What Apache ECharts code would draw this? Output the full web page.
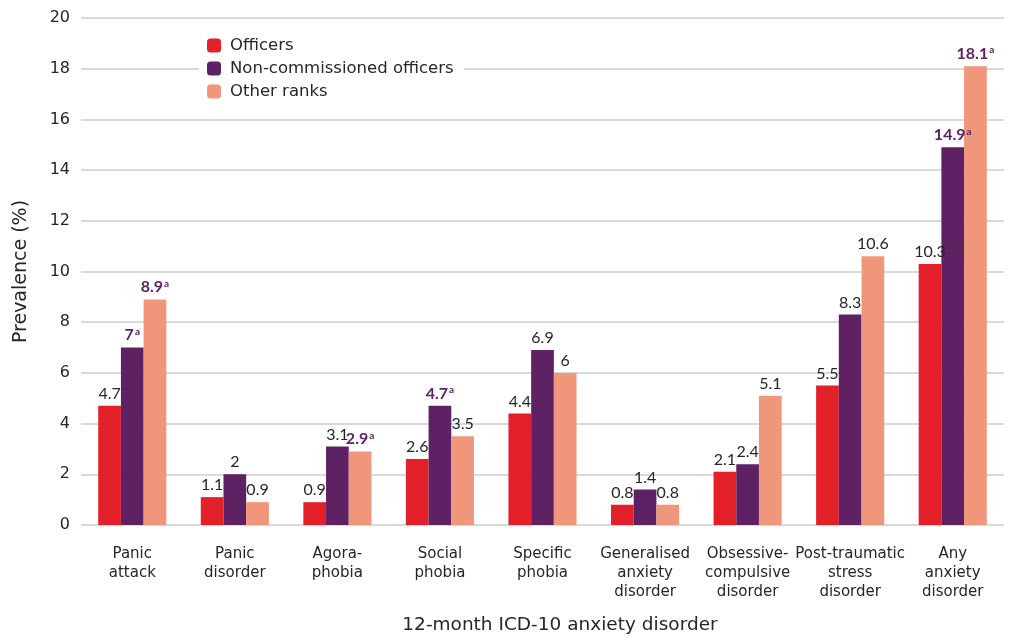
<!DOCTYPE html>
<html><head><meta charset="utf-8">
<script src="https://cdn.jsdelivr.net/npm/echarts@6/dist/echarts.min.js"></script>
<style>html,body{margin:0;padding:0;background:#fff}#c{width:1009px;height:637px}</style>
</head><body><div id="c"></div>
<script>
const categories = ['Panic\nattack','Panic\ndisorder','Agora-\nphobia','Social\nphobia','Specific\nphobia','Generalised\nanxiety\ndisorder','Obsessive-\ncompulsive\ndisorder','Post-traumatic\nstress\ndisorder','Any\nanxiety\ndisorder'];
const officers = [4.7, 1.1, 0.9, 2.6, 4.4, 0.8, 2.1, 5.5, 10.3];
const ncos = [7, 2, 3.1, 4.7, 6.9, 1.4, 2.4, 8.3, 14.9];
const otherRanks = [8.9, 0.9, 2.9, 3.5, 6, 0.8, 5.1, 10.6, 18.1];
const ncoSig = [1,0,0,1,0,0,0,0,1];
const otherSig = [1,0,1,0,0,0,0,0,1];
const yTicks = [0,2,4,6,8,10,12,14,16,18,20];

const FONT = 'DejaVu Sans';
const NFONT = 'Lato';
const TXT = '#262626';
const rich = {
  n: {color:TXT, fontSize:16, fontFamily:NFONT},
  b: {color:'#5e2163', fontSize:16, fontWeight:'bold', fontFamily:NFONT},
  s: {color:'#5e2163', fontSize:10, fontWeight:'bold', fontFamily:NFONT, verticalAlign:'top', padding:[0,0,7,1]}
};
function mk(vals, sig){
  return vals.map((v,i)=>({value:v, sig: sig ? sig[i] : 0}));
}
function fmt(p){
  return p.data.sig ? '{b|'+p.value+'}{s|a}' : '{n|'+p.value+'}';
}
const chart = echarts.init(document.getElementById('c'), null, {renderer:'canvas'});
const lbl = {show:true, position:'top', distance:4, formatter:fmt, rich:rich};
chart.setOption({
  animation:false,
  textStyle:{fontFamily:FONT},
  grid:{left:81, right:5, top:18, bottom:112},
  legend:{
    orient:'vertical', left:199, top:35, itemWidth:14, itemHeight:14, itemGap:6,
    backgroundColor:'#fff', padding:[2,10,2,8],
    textStyle:{fontSize:16.5, color:TXT, fontFamily:FONT, padding:[0,0,0,4]},
    data:['Officers','Non-commissioned officers','Other ranks']
  },
  title:{text:'12-month ICD-10 anxiety disorder', left:560, top:616, textAlign:'center', padding:0,
    textStyle:{fontSize:18.5, fontWeight:'normal', color:TXT, fontFamily:FONT}},
  xAxis:{type:'category', data:categories,
    axisLine:{show:false}, axisTick:{show:false},
    axisLabel:{interval:0, fontSize:15, color:TXT, lineHeight:19, margin:20, fontFamily:FONT}},
  yAxis:{type:'value', min:0, max:20, interval:2,
    name:'Prevalence (%)', nameLocation:'middle', nameGap:50, nameRotate:90,
    nameTextStyle:{fontSize:19, color:TXT, fontFamily:FONT},
    axisLabel:{fontSize:16, color:TXT, margin:11, fontFamily:FONT,
      formatter:v=>yTicks.includes(v)?String(v):''},
    splitLine:{lineStyle:{color:'#d9d9d9', width:2}}},
  series:[
    {name:'Officers', type:'bar', data:mk(officers), itemStyle:{color:'#e3202a'}, barGap:'0%', barCategoryGap:'33.6%', label:lbl},
    {name:'Non-commissioned officers', type:'bar', data:mk(ncos,ncoSig), itemStyle:{color:'#5e2163'}, label:lbl},
    {name:'Other ranks', type:'bar', data:mk(otherRanks,otherSig), itemStyle:{color:'#f0967b'}, label:lbl}
  ]
});
</script></body></html>
